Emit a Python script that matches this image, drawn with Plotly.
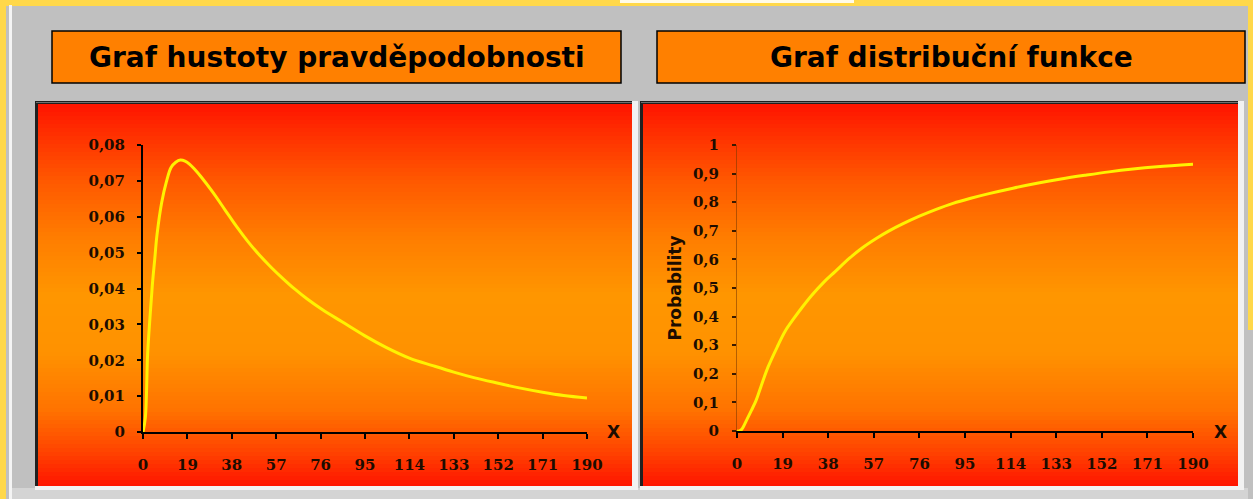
import plotly.graph_objects as go

W, H = 1253, 499

# Probability density (left chart)
density_x = [0, 1, 2, 3, 4, 5, 6, 8, 10, 12, 14, 16, 18, 20, 22, 25, 30, 35, 40, 45,
             50, 55, 60, 65, 70, 77, 85, 95, 104, 114, 124, 133, 142, 152, 161, 171, 180, 190]
density_y = [0.0, 0.004, 0.022, 0.032, 0.041, 0.048, 0.055, 0.064, 0.0697, 0.0737, 0.0752,
             0.0758, 0.0755, 0.0746, 0.0733, 0.0710, 0.0667, 0.0620, 0.0573, 0.0530,
             0.0492, 0.0458, 0.0427, 0.0398, 0.0372, 0.0340, 0.0308, 0.0268, 0.0236,
             0.0206, 0.0185, 0.0167, 0.0151, 0.0136, 0.0123, 0.0111, 0.0102, 0.0095]

# Cumulative distribution (right chart)
cdf_x = [0, 1, 2, 4, 6, 8, 10, 13, 17, 20, 24, 27, 31, 36, 41, 47, 52, 58, 63, 69, 76,
         83, 90, 97, 105, 115, 125, 135, 145, 155, 165, 175, 190]
cdf_y = [0.0, 0.0, 0.006, 0.038, 0.072, 0.108, 0.156, 0.225, 0.298, 0.348, 0.397, 0.431,
         0.473, 0.519, 0.558, 0.605, 0.639, 0.673, 0.698, 0.724, 0.751, 0.775, 0.796,
         0.813, 0.830, 0.849, 0.866, 0.881, 0.894, 0.906, 0.916, 0.924, 0.933]

x_ticks = [0, 19, 38, 57, 76, 95, 114, 133, 152, 171, 190]
x_ticktext = ["0", "19", "38", "57", "76", "95", "114", "133", "152", "171", "190"]
dens_ticks = [0, 0.01, 0.02, 0.03, 0.04, 0.05, 0.06, 0.07, 0.08]
dens_ticktext = ["0", "0,01", "0,02", "0,03", "0,04", "0,05", "0,06", "0,07", "0,08"]
prob_ticks = [0, 0.1, 0.2, 0.3, 0.4, 0.5, 0.6, 0.7, 0.8, 0.9, 1.0]
prob_ticktext = ["0", "0,1", "0,2", "0,3", "0,4", "0,5", "0,6", "0,7", "0,8", "0,9", "1"]

titles = ["Graf hustoty pravděpodobnosti", "Graf distribuční funkce"]


def fx(x):
    return x / W


def fy(y):
    return 1 - y / H


shapes = []


def rect(x0, y0, x1, y1, fill, line_color=None, line_width=0):
    shapes.append(dict(
        type="rect", xref="paper", yref="paper",
        x0=fx(x0), x1=fx(x1), y0=fy(y1), y1=fy(y0),
        fillcolor=fill, layer="below",
        line=dict(color=line_color or fill, width=line_width),
    ))


# window frame around the sheet
rect(0, 0, W, 6, "#FFD84A")
rect(620, 0, 854, 3, "#FFFBE8")
rect(0, 0, 6, H, "#FFD84A")
rect(9, 5, 12, H, "#F4F4F4")
rect(1248, 0, W, 330, "#FFD84A")
rect(12, 488, 1248, H, "#D4D4D4")

# title boxes
boxes = [(52, 31, 621, 83), (657, 31, 1245, 83)]
for (x0, y0, x1, y1) in boxes:
    rect(x0, y0, x1, y1, "#FF8000", "#000000", 1.5)

# gradient stops for the plot panels (fraction from top, rgb)
stops = [(0.0, (255, 20, 0)), (0.08, (255, 48, 0)), (0.2, (255, 88, 0)),
         (0.35, (255, 125, 0)), (0.5, (255, 150, 0)), (0.65, (255, 146, 0)),
         (0.8, (255, 115, 0)), (0.9, (255, 72, 0)), (1.0, (255, 20, 0))]


def grad_color(t):
    for (t0, c0), (t1, c1) in zip(stops[:-1], stops[1:]):
        if t0 <= t <= t1:
            k = (t - t0) / (t1 - t0)
            c = [round(a + (b - a) * k) for a, b in zip(c0, c1)]
            return "rgb({},{},{})".format(*c)
    return "rgb(255,20,0)"


panels = [(35, 101, 632, 486), (640, 101, 1238, 486)]
band = 4
for (x0, y0, x1, y1) in panels:
    # sunken frame: light right/bottom edge, dark top/left edge
    rect(x0, y0, x1 + 6, y1 + 4, "#F2F2F2")
    rect(x0, y0, x1, y1, "#202020")
    rect(x0 + 1, y0 + 1, x1, y0 + 2, "#707070")
    top = y0 + 3
    left = x0 + 3
    span = y1 - top
    ya = top
    while ya < y1:
        yb = min(ya + band, y1)
        t = ((ya + yb) / 2 - top) / span
        # overlap each band into the next one to avoid seams
        rect(left, ya, x1, min(yb + 1, y1), grad_color(t))
        ya = yb

tick_font = dict(family="DejaVu Serif", size=15, color="#1C0C00", weight="bold")

fig = go.Figure()
fig.add_trace(go.Scatter(
    x=density_x, y=density_y, mode="lines",
    line=dict(color="#FFF200", width=3, shape="spline", smoothing=1.0),
    xaxis="x", yaxis="y", showlegend=False, hoverinfo="skip", cliponaxis=False,
))
fig.add_trace(go.Scatter(
    x=cdf_x, y=cdf_y, mode="lines",
    line=dict(color="#FFF200", width=3, shape="spline", smoothing=1.0),
    xaxis="x2", yaxis="y2", showlegend=False, hoverinfo="skip", cliponaxis=False,
))

common_x = dict(
    range=[0, 190], tickmode="array", tickvals=x_ticks, ticktext=x_ticktext,
    showgrid=False, zeroline=False, showline=True, linecolor="#000000", linewidth=2,
    ticks="outside", ticklen=5, tickwidth=1.5, tickcolor="#000000",
    tickfont=tick_font, ticklabelstandoff=13, fixedrange=True, automargin=False,
)

fig.update_layout(
    width=W, height=H,
    margin=dict(l=0, r=0, t=0, b=0, pad=0, autoexpand=False),
    paper_bgcolor="#C0C0C0",
    plot_bgcolor="rgba(0,0,0,0)",
    shapes=shapes,
    xaxis=dict(domain=[fx(143), fx(587)], anchor="y", **common_x),
    yaxis=dict(
        domain=[fy(432), fy(145)], range=[0, 0.08], anchor="x",
        tickmode="array", tickvals=dens_ticks, ticktext=dens_ticktext,
        showgrid=False, zeroline=False, showline=True, linecolor="#000000", linewidth=2,
        ticks="outside", ticklen=4, tickwidth=1.5, tickcolor="#000000",
        tickfont=tick_font, ticklabelstandoff=9, fixedrange=True, automargin=False,
    ),
    xaxis2=dict(domain=[fx(737), fx(1193)], anchor="y2", **common_x),
    yaxis2=dict(
        domain=[fy(431), fy(145)], range=[0, 1], anchor="x2",
        tickmode="array", tickvals=prob_ticks, ticktext=prob_ticktext,
        showgrid=False, zeroline=False, showline=True,
        linecolor="rgba(120,55,0,0.55)", linewidth=1,
        ticks="outside", ticklen=4, tickwidth=1.5, tickcolor="#3A1A00",
        tickfont=tick_font, ticklabelstandoff=10, fixedrange=True, automargin=False,
        title=dict(text="Probability", standoff=6,
                   font=dict(family="DejaVu Sans", size=17, color="#1C0C00",
                             weight="bold")),
    ),
)

annotations = []
for (x0, y0, x1, y1), text in zip(boxes, titles):
    annotations.append(dict(
        xref="paper", yref="paper", x=fx((x0 + x1) / 2), y=fy((y0 + y1) / 2),
        text=text, showarrow=False, xanchor="center", yanchor="middle",
        font=dict(family="DejaVu Sans", size=28, color="#000000", weight="bold"),
    ))
for xpos in (613, 1220):
    annotations.append(dict(
        xref="paper", yref="paper", x=fx(xpos), y=fy(432),
        text="X", showarrow=False, xanchor="center", yanchor="middle",
        font=dict(family="DejaVu Sans", size=17, color="#1C0C00", weight="bold"),
    ))
fig.update_layout(annotations=annotations)

fig.write_html("out.html")
